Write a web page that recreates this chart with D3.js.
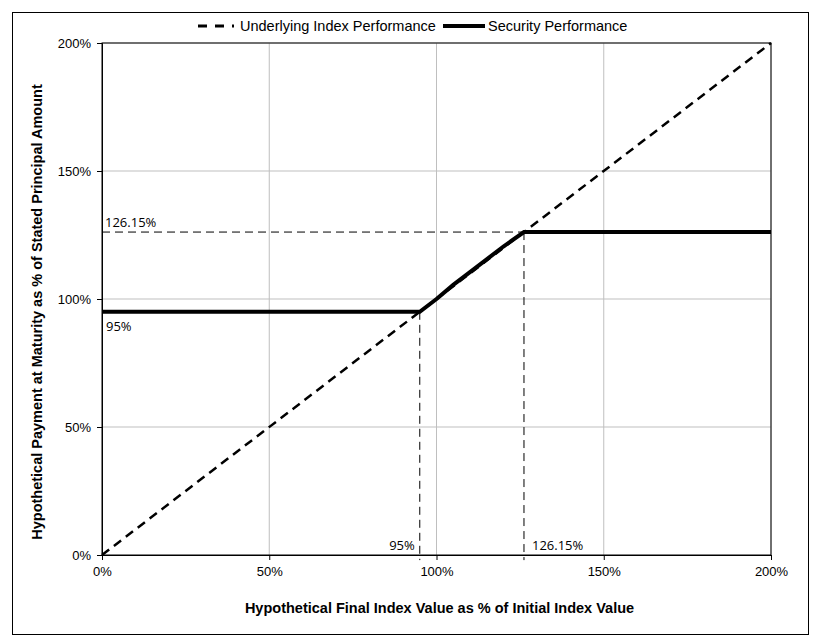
<!DOCTYPE html>
<html>
<head>
<meta charset="utf-8">
<script src="https://cdn.jsdelivr.net/npm/d3@7"></script>
<style>
body { margin: 0; background: #fff; }
.tick text { font-family: "Liberation Sans", Arial, sans-serif; font-size: 13px; fill: #000; }
.grid line { stroke: #bfbfbf; stroke-width: 1; }
</style>
</head>
<body>
<script>
//series data (percent values)
var indexX = [0, 200];
var indexY = [0, 200];
var securityX = [0, 95, 100, 105, 110, 115, 120, 126.15, 200];
var securityY = [95, 95, 100, 105.5, 110.5, 115.5, 120.5, 126.15, 126.15];
var ticks = [0, 50, 100, 150, 200];
var floorLevel = 95;
var capLevel = 126.15;

//frame
var width = 831,
    height = 643;
var margin = {left: 102, top: 43, right: 60, bottom: 88};

var svg = d3.select("body")
    .append("svg")
    .attr("width", width)
    .attr("height", height);

//outer border
svg.append("rect")
    .attr("x", 12.5).attr("y", 12.5)
    .attr("width", 796).attr("height", 622)
    .attr("fill", "#fff")
    .attr("stroke", "#000")
    .attr("stroke-width", 1);

var x = d3.scaleLinear().domain([0, 200]).range([margin.left, width - margin.right]);
var y = d3.scaleLinear().domain([0, 200]).range([height - margin.bottom, margin.top]);

var fmt = function(d){ return d + "%"; };

//gridlines
svg.append("g").attr("class", "grid")
    .selectAll("line").data(ticks.slice(1)).enter().append("line")
    .attr("x1", function(d){ return x(d); }).attr("x2", function(d){ return x(d); })
    .attr("y1", y(0)).attr("y2", y(200));
svg.append("g").attr("class", "grid")
    .selectAll("line").data(ticks.slice(1)).enter().append("line")
    .attr("x1", x(0)).attr("x2", x(200))
    .attr("y1", function(d){ return y(d); }).attr("y2", function(d){ return y(d); });

//plot area box
svg.append("rect")
    .attr("x", x(0)).attr("y", y(200))
    .attr("width", x(200) - x(0)).attr("height", y(0) - y(200))
    .attr("fill", "none").attr("stroke", "#000").attr("stroke-width", 1);

//axes
svg.append("g")
    .attr("transform", "translate(0," + y(0) + ")")
    .call(d3.axisBottom(x).tickValues(ticks).tickFormat(fmt).tickSize(5).tickPadding(7))
    .call(function(g){ g.selectAll("line, path").attr("stroke", "#000"); });
svg.append("g")
    .attr("transform", "translate(" + x(0) + ",0)")
    .call(d3.axisLeft(y).tickValues(ticks).tickFormat(fmt).tickSize(5).tickPadding(6))
    .call(function(g){ g.selectAll("line, path").attr("stroke", "#000"); });

//reference dashed lines
var refs = [
    [[0, capLevel], [capLevel, capLevel]],
    [[floorLevel, floorLevel], [floorLevel, -2]],
    [[capLevel, capLevel], [capLevel, -2]]
];
svg.selectAll(".ref").data(refs).enter().append("line")
    .attr("class", "ref")
    .attr("x1", function(d){ return x(d[0][0]); })
    .attr("y1", function(d){ return y(d[0][1]); })
    .attr("x2", function(d){ return x(d[1][0]); })
    .attr("y2", function(d){ return y(d[1][1]); })
    .attr("stroke", "#000").attr("stroke-width", 1)
    .attr("stroke-dasharray", "8,5");

//series
var line = d3.line()
    .x(function(d){ return x(d[0]); })
    .y(function(d){ return y(d[1]); });

svg.append("path")
    .datum(d3.zip(indexX, indexY))
    .attr("d", line)
    .attr("fill", "none").attr("stroke", "#000")
    .attr("stroke-width", 2.5).attr("stroke-dasharray", "9,6");

svg.append("path")
    .datum(d3.zip(securityX, securityY))
    .attr("d", line)
    .attr("fill", "none").attr("stroke", "#000")
    .attr("stroke-width", 4);

//annotation labels
var labelFont = '"Open Sans", "DejaVu Sans", sans-serif';
var notes = [
    {t: "126.15%", px: 0, py: capLevel, dx: 3, dy: -5, a: "start"},
    {t: "95%", px: 0, py: floorLevel, dx: 4, dy: 19, a: "start"},
    {t: "95%", px: floorLevel, py: 0, dx: -5, dy: -5, a: "end"},
    {t: "126.15%", px: capLevel, py: 0, dx: 8, dy: -5, a: "start"}
];
svg.selectAll(".note").data(notes).enter().append("text")
    .attr("x", function(d){ return x(d.px) + d.dx; })
    .attr("y", function(d){ return y(d.py) + d.dy; })
    .attr("text-anchor", function(d){ return d.a; })
    .style("font-family", labelFont).style("font-size", "13px")
    .text(function(d){ return d.t; });

//axis titles
svg.append("text")
    .attr("x", (x(0) + x(200)) / 2 + 3).attr("y", 613)
    .attr("text-anchor", "middle")
    .style("font-family", '"Liberation Sans", Arial, sans-serif')
    .style("font-weight", "bold").style("font-size", "14.5px")
    .text("Hypothetical Final Index Value as % of Initial Index Value");

svg.append("text")
    .attr("transform", "translate(42,312) rotate(-90)")
    .attr("text-anchor", "middle")
    .style("font-family", '"Liberation Sans", Arial, sans-serif')
    .style("font-weight", "bold").style("font-size", "14.5px")
    .text("Hypothetical Payment at Maturity as % of Stated Principal Amount");

//legend
var legendFont = '"Liberation Sans", Arial, sans-serif';
var lg = svg.append("g");
lg.append("line").attr("x1", 198).attr("x2", 234).attr("y1", 26).attr("y2", 26)
    .attr("stroke", "#000").attr("stroke-width", 3).attr("stroke-dasharray", "9,8");
lg.append("text").attr("x", 240).attr("y", 31)
    .style("font-family", legendFont).style("font-size", "14.5px")
    .text("Underlying Index Performance");
lg.append("line").attr("x1", 443).attr("x2", 485).attr("y1", 26).attr("y2", 26)
    .attr("stroke", "#000").attr("stroke-width", 4);
lg.append("text").attr("x", 488).attr("y", 31)
    .style("font-family", legendFont).style("font-size", "14.5px")
    .text("Security Performance");
</script>
</body>
</html>
